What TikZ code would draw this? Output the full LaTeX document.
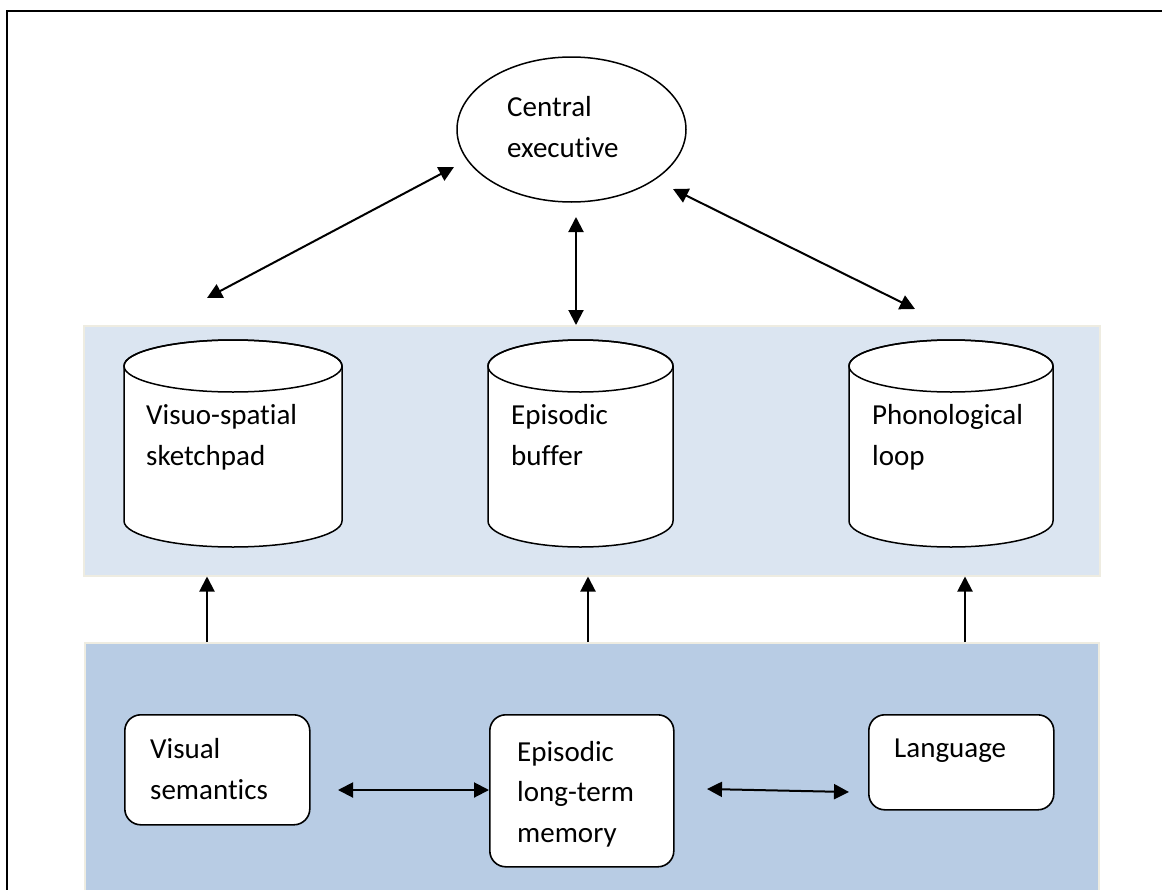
\documentclass[tikz,border=0pt]{standalone}
\usepackage{fontspec}
\setmainfont{Carlito}[Ligatures={NoCommon,NoRequired,NoContextual}]
\usetikzlibrary{arrows.meta,shapes.geometric}
\definecolor{wmblue}{HTML}{DBE5F1}
\definecolor{ltmblue}{HTML}{B8CCE4}
\definecolor{bandedge}{HTML}{EEECE1}
\tikzset{
  lbl/.style={font=\fontsize{29}{40.5}\selectfont, align=left, inner sep=0pt, anchor=base west},
  arr/.style={line width=2pt, -{Triangle[length=15pt,width=15pt]}},
  darr/.style={line width=2pt, {Triangle[length=15pt,width=15pt]}-{Triangle[length=15pt,width=15pt]}},
  band/.style={draw=bandedge, line width=1.5pt, inner sep=0pt, anchor=north west},
  cylline/.style={draw, fill=white, line width=1.5pt},
  rbox/.style={draw, fill=white, line width=1.6pt, rounded corners=16pt, inner sep=0pt, anchor=north west},
}
\newcommand\mycyl[4]{%
  \draw[cylline] (#1-#4,#2) -- (#1-#4,#3)
    arc[start angle=180,end angle=360,x radius=#4pt,y radius=26pt]
    -- (#1+#4,#2)
    arc[start angle=0,end angle=180,x radius=#4pt,y radius=26pt] -- cycle;
  \draw[line width=1.5pt] (#1,#2) ellipse [x radius=#4pt, y radius=26pt];
}
\begin{document}
\begin{tikzpicture}[x=1pt,y=-1pt]
\useasboundingbox (0,0) rectangle (1162,889);
% frame
\draw[line width=2pt] (7,895) -- (7,11) -- (1170,11);
% bands
\node[band, fill=wmblue, minimum width=1016pt, minimum height=250pt] (wm) at (83,325) {};
\node[band, fill=ltmblue, minimum width=1014pt, minimum height=260pt] (ltm) at (84,642) {};
% central executive
\node[draw, ellipse, line width=1.5pt, minimum width=229pt, minimum height=145pt, inner sep=0pt] (ce) at (571.5,129.5) {};
\node[lbl] (cet) at (507,157) {Central\\executive};
% cylinders
\mycyl{233}{366}{521}{109}
\mycyl{580.5}{366}{521}{92.5}
\mycyl{951}{366}{521}{102}
\node[lbl] (vss) at (146,465) {Visuo-spatial\\sketchpad};
\node[lbl] (eb) at (511,465) {Episodic\\buffer};
\node[lbl] (pl) at (872,465) {Phonological\\loop};
% long-term boxes
\node[rbox, minimum width=185pt, minimum height=110pt] (vsem) at (124,714) {};
\node[rbox, minimum width=184pt, minimum height=152pt] (eltm) at (489,714) {};
\node[rbox, minimum width=185pt, minimum height=95pt] (lang) at (868,714) {};
\node[lbl] (vsemt) at (150,799) {Visual\\semantics};
\node[lbl] (eltmt) at (517,842) {Episodic\\long-term\\memory};
\node[lbl] (langt) at (894,757) {Language};
% free arrow ends
\coordinate (a1) at (207,298);
\coordinate (a2) at (454,167);
\coordinate (b1) at (576,217);
\coordinate (b2) at (576,325);
\coordinate (c1) at (673,189);
\coordinate (c2) at (915,309);
\coordinate (h1) at (338,790);
\coordinate (h2) at (707,789);
\coordinate (h3) at (849,792);
% arrows
\draw[darr] (a1) -- (a2);
\draw[darr] (b1) -- (b2);
\draw[darr] (c1) -- (c2);
\draw[arr] ([xshift=123pt]ltm.north west) -- ([xshift=124pt]wm.south west);
\draw[arr] ([xshift=504pt]ltm.north west) -- ([xshift=505pt]wm.south west);
\draw[arr] ([xshift=881pt]ltm.north west) -- ([xshift=882pt]wm.south west);
\draw[darr] (h1) -- (eltm.west |- h1);
\draw[darr] (h2) -- (h3);
\end{tikzpicture}
\end{document}
